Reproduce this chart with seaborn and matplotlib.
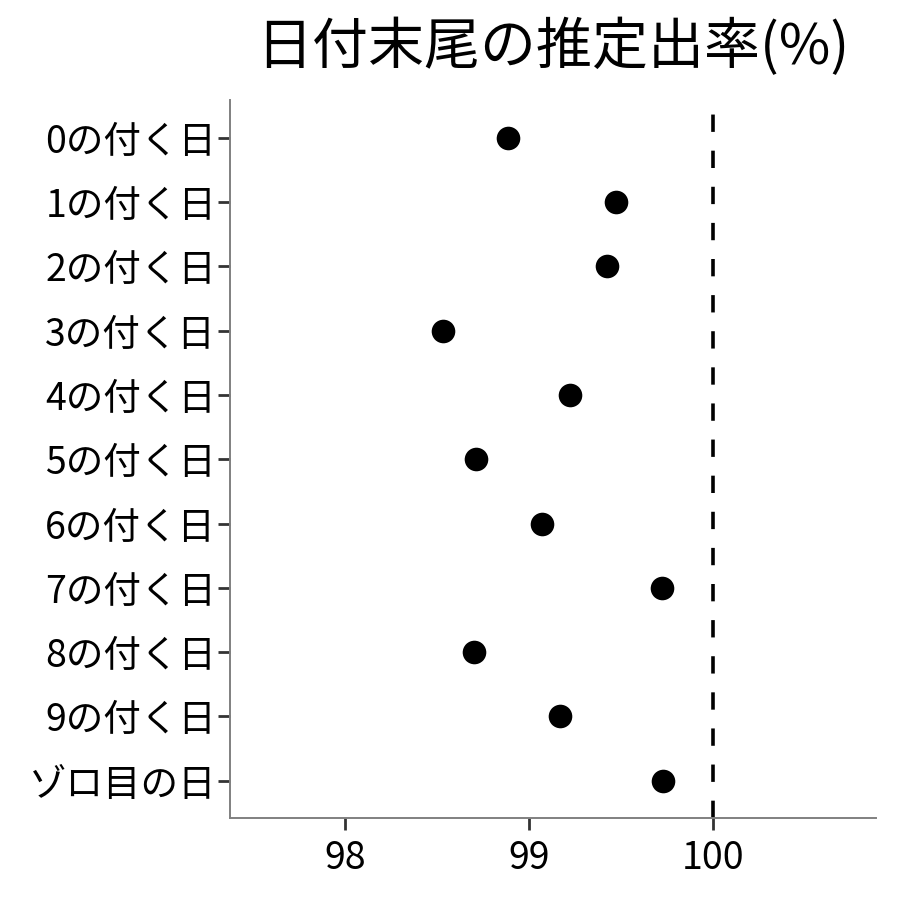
import matplotlib
matplotlib.use("Agg")
import matplotlib.pyplot as plt
import seaborn as sns
import pandas as pd

categories = ["0の付く日", "1の付く日", "2の付く日", "3の付く日", "4の付く日",
              "5の付く日", "6の付く日", "7の付く日", "8の付く日", "9の付く日", "ゾロ目の日"]
rates = [98.886, 99.473, 99.424, 98.533, 99.223, 98.712, 99.071, 99.723, 98.701, 99.168, 99.728]
title = "日付末尾の推定出率(%)"
xticks = [98, 99, 100]
reference_value = 100

sns.set_theme(style="white")
plt.rcParams["font.family"] = ["Noto Sans CJK JP", "DejaVu Sans"]

df = pd.DataFrame({"category": categories, "rate": rates})

fig = plt.figure(figsize=(9, 9), dpi=100)
ax = fig.add_axes([0.2556, 0.0911, 0.7178, 0.7978])

ax.axvline(reference_value, color="black", lw=2.6, ls=(0, (4.8, 5.2)), zorder=1)
sns.stripplot(data=df, x="rate", y="category", order=categories, jitter=False,
              color="black", size=17, linewidth=0, ax=ax, zorder=3)

ax.set_xlim(97.375, 100.886)
ax.set_ylim(10.58, -0.59)
ax.set_xticks(xticks)
ax.set_xticklabels([str(t) for t in xticks])
ax.set_xlabel("")
ax.set_ylabel("")

for side in ["top", "right"]:
    ax.spines[side].set_visible(False)
for side in ["left", "bottom"]:
    ax.spines[side].set_color("#808080")
    ax.spines[side].set_linewidth(1.4)

ax.tick_params(axis="both", which="major", bottom=True, left=True, top=False, right=False,
               length=8.5, width=2.0, color="#333333",
               labelcolor="black", labelsize=27)
ax.tick_params(axis="y", pad=1.5)
ax.tick_params(axis="x", pad=6.5)

fig.text(0.6144, 0.947, title, ha="center", va="center", fontsize=40.3, color="black")

fig.savefig("out.png", dpi=100, facecolor="white")
